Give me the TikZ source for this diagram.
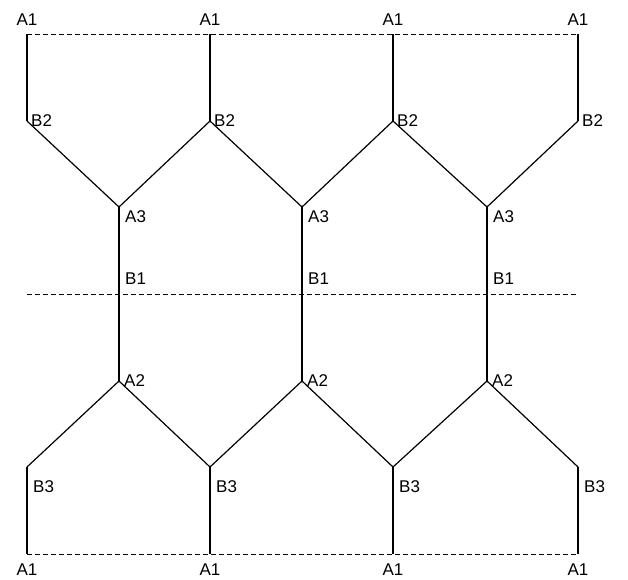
\documentclass[tikz,border=0pt]{standalone}
\usepackage{fontspec}
\setmainfont{Liberation Sans}
\usetikzlibrary{positioning}
\begin{document}
\begin{tikzpicture}[x=1pt, y=-1pt,
    edge/.style={line width=1.2pt},
    cut/.style={line width=0.9pt, dash pattern=on 5pt off 3pt},
    lbl/.style={inner sep=1pt, font=\fontsize{17}{19}\selectfont}
]
\useasboundingbox (0,0) rectangle (628,579);

% outer column points
\foreach \i/\x in {0/27,1/210,2/393,3/578} {
  \coordinate (t\i) at (\x,34);
  \coordinate (bb\i) at (\x,121);
  \coordinate (bc\i) at (\x,467);
  \coordinate (bt\i) at (\x,554);
  \node[lbl, above=7pt of t\i] (lt\i) {A1};
  \node[lbl, right=3pt of bb\i] (lbb\i) {B2};
  \node[lbl, below right=12pt and 5pt of bc\i] (lbc\i) {B3};
  \node[lbl, below=9pt of bt\i] (lbt\i) {A1};
}
% inner column points
\foreach \j/\x in {0/119,1/302,2/487} {
  \coordinate (ac\j) at (\x,207);
  \coordinate (ba\j) at (\x,294);
  \coordinate (ab\j) at (\x,381);
  \node[lbl, below right=2pt and 5pt of ac\j] (lac\j) {A3};
  \node[lbl, above right=8pt and 5pt of ba\j] (lba\j) {B1};
  \node[lbl, right=4pt of ab\j] (lab\j) {A2};
}
\coordinate (ml) at (27,294);
\coordinate (mr) at (578,294);

\foreach \i in {0,...,3} {
  \draw[edge] (t\i) -- (bb\i);
  \draw[edge] (bc\i) -- (bt\i);
}
\foreach \j/\k in {0/1,1/2,2/3} {
  \draw[edge] (bb\j) -- (ac\j) -- (bb\k);
  \draw[edge] (ac\j) -- (ba\j) -- (ab\j);
  \draw[edge] (bc\j) -- (ab\j) -- (bc\k);
}

\draw[cut] (t0) -- (t3);
\draw[cut] (ml) -- (mr);
\draw[cut] (bt0) -- (bt3);
\end{tikzpicture}
\end{document}
